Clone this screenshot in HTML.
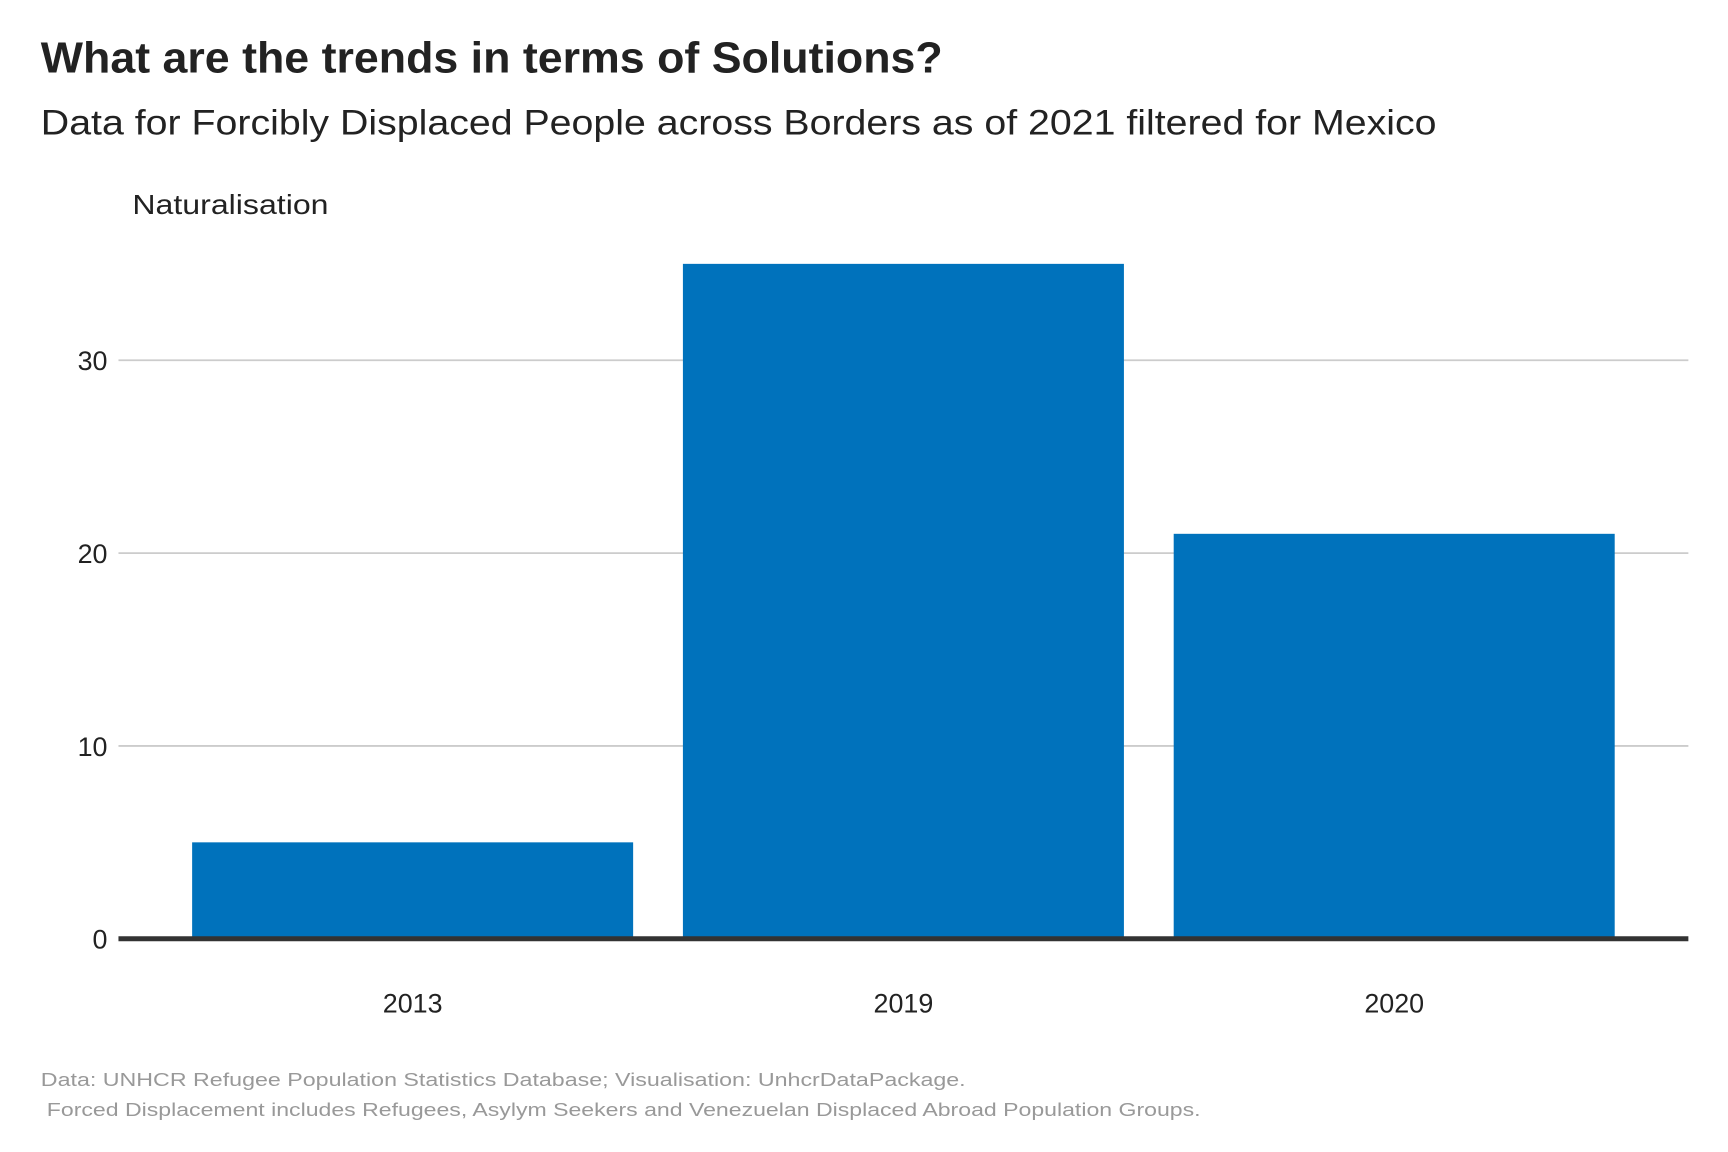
<!DOCTYPE html>
<html><head><meta charset="utf-8"><style>html,body{margin:0;padding:0;background:#fff}svg{display:block}</style></head>
<body>
<svg width="1728" height="1152" xmlns="http://www.w3.org/2000/svg" font-family="'Liberation Sans', sans-serif">
<g transform="scale(0.9955)">
<text x="41" y="73" font-size="44" font-weight="bold" fill="#222" textLength="906" lengthAdjust="spacingAndGlyphs">What are the trends in terms of Solutions?</text>
<text x="41" y="135" font-size="35" fill="#222" textLength="1402" lengthAdjust="spacingAndGlyphs">Data for Forcibly Displaced People across Borders as of 2021 filtered for Mexico</text>
<text x="133" y="215" font-size="28" fill="#222" textLength="197" lengthAdjust="spacingAndGlyphs">Naturalisation</text>
<g id="grid"></g>
<g id="bars"></g>
<g id="xlabels"></g>
<line x1="119" x2="1696" y1="943" y2="943" stroke="#333" stroke-width="5"/>
<text x="41" y="1091" font-size="19" fill="#999" textLength="929" lengthAdjust="spacingAndGlyphs">Data: UNHCR Refugee Population Statistics Database; Visualisation: UnhcrDataPackage.</text>
<text x="47" y="1121" font-size="19" fill="#999" textLength="1159" lengthAdjust="spacingAndGlyphs">Forced Displacement includes Refugees, Asylym Seekers and Venezuelan Displaced Abroad Population Groups.</text>
</g>
</svg>
<script>
const categories = ["2013", "2019", "2020"];
const values = [5, 35, 21];
const yTicks = [0, 10, 20, 30];
const NS = "http://www.w3.org/2000/svg";
function y(v){ return 943 - v * 19.37; }
function xCenter(i){ return 414.5 + i * 493; }
const barW = 443;
const grid = document.getElementById('grid');
yTicks.forEach(t => {
  if (t !== 0) {
    const l = document.createElementNS(NS, 'line');
    
    
    l.setAttribute('x1', 119); l.setAttribute('x2', 1696);
    l.setAttribute('y1', y(t)); l.setAttribute('y2', y(t));
    l.setAttribute('stroke', '#cccccc'); l.setAttribute('stroke-width', '1.8');
    grid.appendChild(l);
  }
  const tx = document.createElementNS(NS, 'text');
  
  
  tx.setAttribute('x', 108); tx.setAttribute('y', y(t) + 10);
  tx.setAttribute('text-anchor', 'end'); tx.setAttribute('font-size', '27'); tx.setAttribute('fill', '#222');
  tx.textContent = t;
  grid.appendChild(tx);
});
const bars = document.getElementById('bars');
const xl = document.getElementById('xlabels');
categories.forEach((c, i) => {
  const r = document.createElementNS(NS, 'rect');
  
  
  r.setAttribute('x', xCenter(i) - barW / 2); r.setAttribute('width', barW);
  r.setAttribute('y', y(values[i])); r.setAttribute('height', 943 - y(values[i]));
  r.setAttribute('fill', '#0072bc');
  bars.appendChild(r);
  const t = document.createElementNS(NS, 'text');
  
  
  t.setAttribute('x', xCenter(i)); t.setAttribute('y', 1017);
  t.setAttribute('text-anchor', 'middle'); t.setAttribute('font-size', '27'); t.setAttribute('fill', '#222');
  t.textContent = c;
  xl.appendChild(t);
});
</script>
</body></html>
